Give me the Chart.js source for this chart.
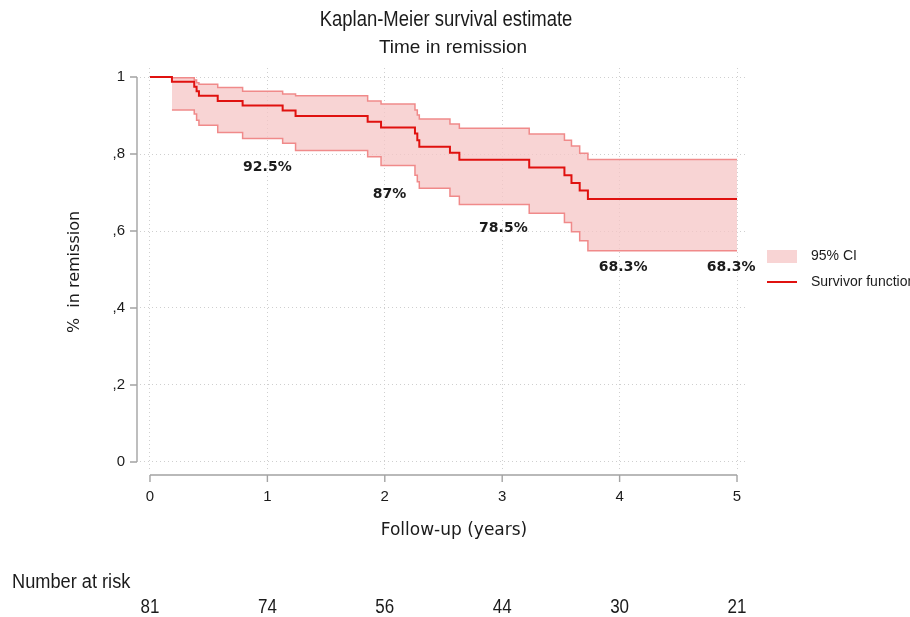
<!DOCTYPE html>
<html>
<head>
<meta charset="utf-8">
<script src="https://cdn.jsdelivr.net/npm/chart.js@4.4.1/dist/chart.umd.min.js"></script>
<style>
  html, body { margin: 0; padding: 0; background: #fff; }
  #wrap { width: 910px; height: 617px; }
</style>
</head>
<body>
<div id="wrap"><canvas id="km" width="910" height="617"></canvas></div>
<script>
/* ---------- data ---------- */
// event times (years) and the KM estimate right after each event
const eventTimes = [0.187, 0.377, 0.397, 0.417, 0.577, 0.789, 1.13, 1.24, 1.854, 1.968,
                    2.257, 2.277, 2.294, 2.555, 2.635, 3.23, 3.53, 3.59, 3.66, 3.73];
const survival   = [0.988, 0.975, 0.963, 0.951, 0.938, 0.926, 0.913, 0.899, 0.884, 0.869,
                    0.853, 0.836, 0.819, 0.803, 0.785, 0.765, 0.745, 0.725, 0.705, 0.683];
const ciUpper    = [0.998, 0.992, 0.985, 0.981, 0.973, 0.963, 0.956, 0.951, 0.938, 0.930,
                    0.914, 0.901, 0.891, 0.878, 0.867, 0.852, 0.836, 0.821, 0.802, 0.786];
const ciLower    = [0.914, 0.904, 0.888, 0.875, 0.856, 0.840, 0.828, 0.809, 0.793, 0.770,
                    0.745, 0.728, 0.711, 0.690, 0.669, 0.646, 0.622, 0.598, 0.575, 0.549];
const followUpEnd = 5;

const xTicks = [0, 1, 2, 3, 4, 5];
const yTicks = [0, 0.2, 0.4, 0.6, 0.8, 1];
const yTickLabels = ['0', ',2', ',4', ',6', ',8', '1'];

const riskTimes    = [0, 1, 2, 3, 4, 5];
const numberAtRisk = [81, 74, 56, 44, 30, 21];

// annotated estimates (anchor in data units)
const markTimes  = [1, 2.04, 3.01, 4.03, 4.95];
const markLevels = [0.766, 0.694, 0.608, 0.506, 0.506];
const markTexts  = ['92.5%', '87%', '78.5%', '68.3%', '68.3%'];

/* ---------- colours / fonts ---------- */
const RED     = '#e0110f';
const CI_FILL = 'rgba(246, 198, 198, 0.75)';
const CI_EDGE = '#f08a8a';
const AXIS    = '#a3a3a3';
const GRID    = '#cfcfcf';
const INK     = '#1b1b1b';
const SANS    = "'Liberation Sans', Arial, sans-serif";
const VERD    = "'DejaVu Sans', Verdana, sans-serif";

/* ---------- series built from the arrays ---------- */
const last = survival.length - 1;
const kmPoints = [{ x: 0, y: 1 }]
  .concat(eventTimes.map((t, i) => ({ x: t, y: survival[i] })))
  .concat([{ x: followUpEnd, y: survival[last] }]);
const upPoints = eventTimes.map((t, i) => ({ x: t, y: ciUpper[i] }))
  .concat([{ x: followUpEnd, y: ciUpper[last] }]);
const loPoints = eventTimes.map((t, i) => ({ x: t, y: ciLower[i] }))
  .concat([{ x: followUpEnd, y: ciLower[last] }]);

// no narrow face installed -> squeeze Liberation Sans horizontally
function squeezed(ctx, text, x, y, size, sx, align) {
  ctx.save();
  ctx.font = size + 'px ' + SANS;
  ctx.translate(x, y);
  ctx.scale(sx, 1);
  ctx.textAlign = align;
  ctx.fillText(text, 0, 0);
  ctx.restore();
}

/* ---------- extra drawing: axes, titles, legend, notes, risk table ---------- */
const decor = {
  id: 'decor',
  afterDraw(chart) {
    const { ctx, chartArea: a, scales: { x, y } } = chart;
    ctx.save();

    // axis lines (Stata draws them a little outside the plot region)
    const axX = a.left - 3, axY = a.bottom + 5;
    ctx.strokeStyle = AXIS;
    ctx.lineWidth = 1.4;
    ctx.beginPath();
    ctx.moveTo(axX, y.getPixelForValue(0));
    ctx.lineTo(axX, y.getPixelForValue(1));
    ctx.moveTo(x.getPixelForValue(0), axY);
    ctx.lineTo(x.getPixelForValue(5), axY);
    yTicks.forEach(v => {
      const py = y.getPixelForValue(v);
      ctx.moveTo(axX, py); ctx.lineTo(axX - 7, py);
    });
    xTicks.forEach(v => {
      const px = x.getPixelForValue(v);
      ctx.moveTo(px, axY); ctx.lineTo(px, axY + 7);
    });
    ctx.stroke();

    ctx.fillStyle = INK;
    ctx.textBaseline = 'middle';
    ctx.textAlign = 'center';

    // titles
    squeezed(ctx, 'Kaplan-Meier survival estimate', 446, 20, 22, 0.84, 'center');
    ctx.font = '19px ' + SANS;
    ctx.fillText('Time in remission', 453, 48);

    // axis titles
    ctx.font = '17px ' + VERD;
    ctx.fillText('Follow-up (years)', 454, 531);
    ctx.font = '16px ' + VERD;
    ctx.save();
    ctx.translate(75, 272);
    ctx.rotate(-Math.PI / 2);
    ctx.fillText('%  in remission', 0, 0);
    ctx.restore();

    // value notes
    ctx.font = 'bold 14px ' + VERD;
    markTexts.forEach((t, i) => {
      ctx.fillText(t, x.getPixelForValue(markTimes[i]), y.getPixelForValue(markLevels[i]));
    });

    // legend
    ctx.fillStyle = CI_FILL;
    ctx.fillRect(767, 250, 30, 13);
    ctx.strokeStyle = RED;
    ctx.lineWidth = 2;
    ctx.beginPath();
    ctx.moveTo(767, 282); ctx.lineTo(797, 282);
    ctx.stroke();
    ctx.fillStyle = INK;
    ctx.textAlign = 'left';
    ctx.font = '14px ' + SANS;
    ctx.fillText('95% CI', 811, 256);
    ctx.fillText('Survivor function', 811, 282);

    // number at risk
    squeezed(ctx, 'Number at risk', 12, 582, 20, 0.91, 'left');
    numberAtRisk.forEach((n, i) => {
      squeezed(ctx, String(n), x.getPixelForValue(riskTimes[i]), 607, 20, 0.85, 'center');
    });

    ctx.restore();
  }
};

new Chart(document.getElementById('km'), {
  type: 'line',
  data: {
    datasets: [
      {
        label: '95% CI',
        data: upPoints,
        stepped: true,
        borderColor: CI_EDGE,
        borderWidth: 1.5,
        backgroundColor: CI_FILL,
        fill: '+1',
        pointRadius: 0,
        order: 2
      },
      {
        label: 'lower',
        data: loPoints,
        stepped: true,
        borderColor: CI_EDGE,
        borderWidth: 1.5,
        fill: false,
        pointRadius: 0,
        order: 1
      },
      {
        label: 'Survivor function',
        data: kmPoints,
        stepped: true,
        borderColor: RED,
        borderWidth: 2,
        fill: false,
        pointRadius: 0,
        order: 0
      }
    ]
  },
  options: {
    responsive: false,
    animation: false,
    devicePixelRatio: 1,
    layout: { padding: { left: 0, top: 68, right: 165, bottom: 0 } },
    plugins: {
      legend: { display: false },
      tooltip: { enabled: false },
      title: { display: false }
    },
    scales: {
      x: {
        type: 'linear',
        min: -0.085,
        max: 5.068,
        afterBuildTicks: s => { s.ticks = xTicks.map(v => ({ value: v })); },
        afterFit: s => { s.height = 147; },
        grid: { color: GRID, lineWidth: 1, drawTicks: false },
        border: { display: false, dash: [1, 3] },
        ticks: {
          padding: 18,
          color: INK,
          font: { family: SANS, size: 15 },
          maxRotation: 0,
          callback: v => String(v)
        }
      },
      y: {
        type: 'linear',
        min: -0.0208,
        max: 1.0234,
        afterBuildTicks: s => { s.ticks = yTicks.map(v => ({ value: v })); },
        afterFit: s => { s.width = 140; },
        grid: { color: GRID, lineWidth: 1, drawTicks: false },
        border: { display: false, dash: [1, 3] },
        ticks: {
          padding: 15,
          color: INK,
          font: { family: SANS, size: 15 },
          callback: v => yTickLabels[yTicks.indexOf(v)]
        }
      }
    }
  },
  plugins: [decor]
});
</script>
</body>
</html>
